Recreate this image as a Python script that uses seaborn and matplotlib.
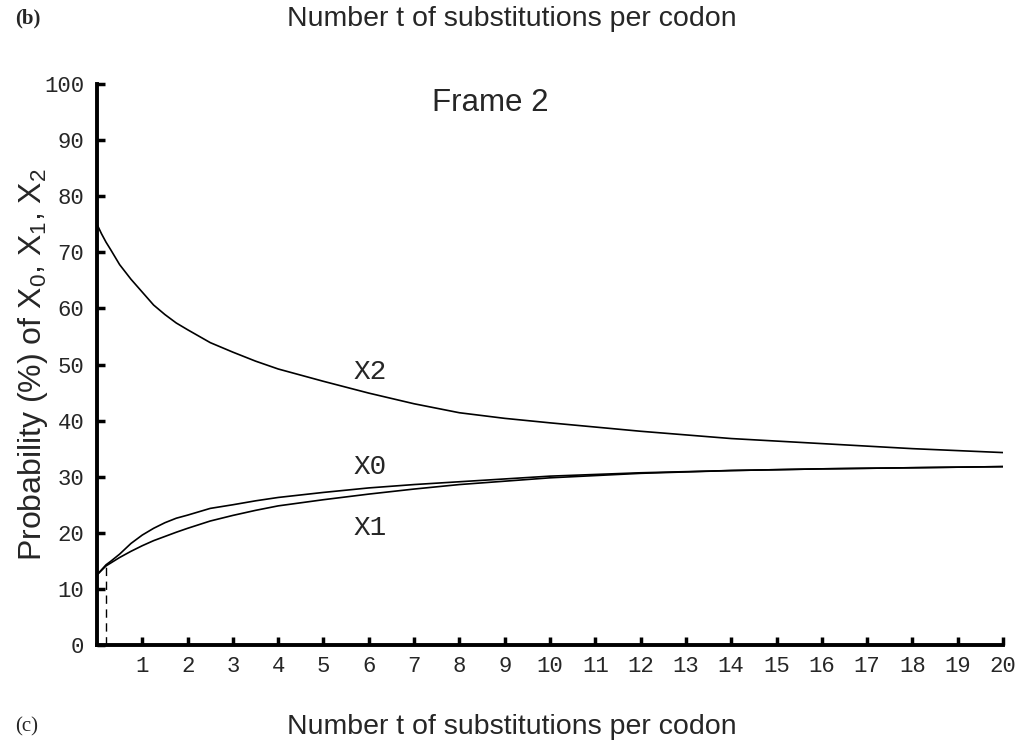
import matplotlib
matplotlib.use("Agg")
import matplotlib.pyplot as plt
import seaborn as sns
import pandas as pd

# Substitutions per codon (t) and probabilities (%) of each state
t_values = [0, 0.1, 0.2, 0.3, 0.5, 0.75, 1, 1.25, 1.5, 1.75, 2, 2.5, 3, 3.5, 4,
            5, 6, 7, 8, 9, 10, 12, 14, 16, 18, 20]
x0_values = [12.5, 13.4, 14.3, 14.9, 16.2, 18.1, 19.6, 20.8, 21.8, 22.6, 23.15, 24.35,
             25.0, 25.7, 26.3, 27.2, 28.0, 28.6, 29.1, 29.6, 30.1, 30.7, 31.1, 31.4,
             31.6, 31.8]
x1_values = [12.5, 13.3, 14.1, 14.6, 15.6, 16.7, 17.7, 18.6, 19.35, 20.1, 20.8, 22.1,
             23.1, 24.0, 24.8, 25.9, 26.9, 27.8, 28.6, 29.2, 29.8, 30.6, 31.1, 31.4,
             31.6, 31.8]
x2_values = [75.0, 73.3, 71.8, 70.5, 67.8, 65.2, 62.9, 60.6, 58.9, 57.4, 56.2, 53.9,
             52.2, 50.6, 49.2, 47.0, 44.9, 43.0, 41.4, 40.4, 39.6, 38.1, 36.8, 35.9,
             35.0, 34.3]

series_names = ["X0", "X1", "X2"]
x_ticks = list(range(1, 21))
y_ticks = list(range(0, 101, 10))
marker_t = 0.2
marker_top = 14.3

df = pd.DataFrame({
    "t": t_values * 3,
    "p": x0_values + x1_values + x2_values,
    "state": [n for n in series_names for _ in t_values],
})

sns.set_style("white")
plt.rcParams["font.family"] = ["Liberation Sans", "DejaVu Sans"]
plt.rcParams["mathtext.fontset"] = "custom"
plt.rcParams["mathtext.rm"] = "Liberation Sans"
plt.rcParams["mathtext.it"] = "Liberation Sans:italic"

mono = "Liberation Mono"

fig = plt.figure(figsize=(10.23, 7.48), dpi=100)
ax = fig.add_axes([0.0948, 0.1377, 0.8857, 0.75])

sns.lineplot(data=df, x="t", y="p", units="state", estimator=None,
             color="black", linewidth=1.2, ax=ax, legend=False)
ax.plot([marker_t, marker_t], [0, marker_top], color="black",
        linewidth=1.0, linestyle=(0, (6, 4)))

ax.set_xlim(0, 20)
ax.set_ylim(0, 100)
ax.set_xticks(x_ticks)
ax.set_yticks(y_ticks)
ax.set_xticklabels([str(v) for v in x_ticks], fontfamily=mono, fontsize=16)
ax.set_yticklabels([str(v) for v in y_ticks], fontfamily=mono, fontsize=16)
ax.tick_params(axis="both", which="major", direction="in", length=6, width=2.5,
               color="black", bottom=True, left=True)
ax.tick_params(axis="x", pad=8)
ax.tick_params(axis="y", pad=9)

for side in ["top", "right"]:
    ax.spines[side].set_visible(False)
for side in ["left", "bottom"]:
    ax.spines[side].set_linewidth(2.8)
    ax.spines[side].set_color("black")

ax.set_xlabel("")
ax.set_ylabel(r"Probability (%) of $\mathrm{X_0}$, $\mathrm{X_1}$, $\mathrm{X_2}$",
              fontsize=23)
ax.yaxis.set_label_coords(-0.052, 0.5)

# Curve labels
ax.text(6.04, 48.6, "X2", fontfamily=mono, fontsize=20, ha="center", va="center")
ax.text(6.04, 31.8, "X0", fontfamily=mono, fontsize=20, ha="center", va="center")
ax.text(6.04, 20.9, "X1", fontfamily=mono, fontsize=20, ha="center", va="center")
ax.text(8.68, 96.6, "Frame 2", fontsize=22.5, ha="center", va="center")

# Panel captions
fig.text(0.50, 0.975, "Number t of substitutions per codon", fontsize=20.5,
         ha="center", va="center")
fig.text(0.015, 0.975, "(b)", fontfamily="Liberation Serif", fontweight="bold",
         fontsize=15, ha="left", va="center")
fig.text(0.50, 0.028, "Number t of substitutions per codon", fontsize=20.5,
         ha="center", va="center")
fig.text(0.015, 0.028, "(c)", fontfamily="Liberation Serif",
         fontsize=15, ha="left", va="center")

fig.savefig("out.png", dpi=100, facecolor="white")
